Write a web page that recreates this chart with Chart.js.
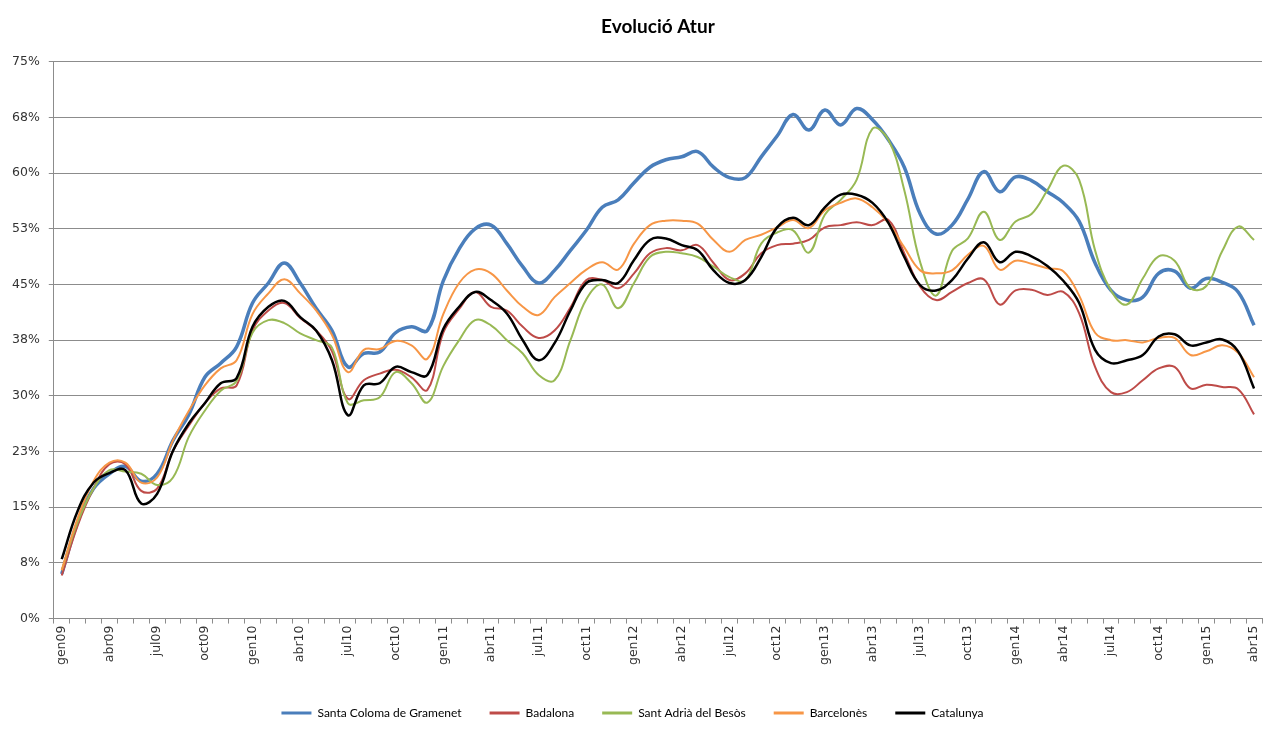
<!DOCTYPE html>
<html>
<head>
  <meta charset="utf-8">
  <title>Evolució Atur</title>
  <script src="https://cdn.jsdelivr.net/npm/chart.js"></script>
  <style>
    body {
      margin: 0;
      padding: 0;
      background: white;
    }
    #wrap {
      width: 1263px;
      height: 733px;
    }
  </style>
</head>
<body>
  <div id="wrap"><canvas id="chartAtur"></canvas></div>

  <script>
    // mesos (gen09 .. abr15)
    const mesos = [
      'gen09','feb09','mar09','abr09','mai09','jun09','jul09','ago09','set09','oct09','nov09','des09',
      'gen10','feb10','mar10','abr10','mai10','jun10','jul10','ago10','set10','oct10','nov10','des10',
      'gen11','feb11','mar11','abr11','mai11','jun11','jul11','ago11','set11','oct11','nov11','des11',
      'gen12','feb12','mar12','abr12','mai12','jun12','jul12','ago12','set12','oct12','nov12','des12',
      'gen13','feb13','mar13','abr13','mai13','jun13','jul13','ago13','set13','oct13','nov13','des13',
      'gen14','feb14','mar14','abr14','mai14','jun14','jul14','ago14','set14','oct14','nov14','des14',
      'gen15','feb15','mar15','abr15'
    ];

    const yTickLabels = ['0%','8%','15%','23%','30%','38%','45%','53%','60%','68%','75%'];

    // valors en %
    const santaColoma = [
      6.0, 13.0, 17.5, 19.5, 20.5, 18.5, 19.5, 24.0, 27.5, 32.5, 34.4, 36.6,
      42.5, 45.2, 47.9, 45.2, 41.8, 38.8, 33.9, 35.7, 35.9, 38.5, 39.3, 38.8,
      45.5, 49.8, 52.5, 53.0, 50.5, 47.4, 45.2, 46.9, 49.6, 52.3, 55.4, 56.4,
      58.7, 60.8, 61.8, 62.2, 62.9, 60.8, 59.4, 59.4, 62.2, 65.0, 67.9, 65.8,
      68.5, 66.5, 68.7, 67.2, 64.5, 60.8, 54.5, 51.8, 53.0, 56.5, 60.2, 57.5,
      59.5, 59.0, 57.5, 56.0, 53.5, 47.9, 44.2, 42.9, 43.3, 46.5, 46.8, 44.5,
      45.8, 45.3, 44.0, 39.5
    ];
    const badalona = [
      5.8, 12.5, 17.5, 20.8, 20.8, 17.2, 17.5, 22.6, 26.0, 29.0, 31.0, 31.4,
      38.8, 41.5, 42.5, 40.5, 38.8, 36.0, 29.6, 32.1, 33.0, 33.5, 32.5, 30.8,
      38.5, 41.7, 44.0, 42.0, 41.5, 39.3, 37.8, 38.8, 41.9, 45.6, 45.6, 44.5,
      46.5, 49.2, 49.9, 49.6, 50.3, 47.9, 45.6, 46.5, 49.2, 50.3, 50.5, 51.0,
      52.7, 53.0, 53.4, 53.0, 53.7, 49.2, 44.7, 42.9, 44.0, 45.2, 45.7, 42.3,
      44.2, 44.3, 43.6, 44.0, 41.1, 33.9, 30.5, 30.5, 32.1, 33.7, 33.9, 31.0,
      31.5, 31.2, 30.9, 27.5
    ];
    const santAdria = [
      6.5, 13.0, 17.5, 20.0, 19.8, 19.5, 18.0, 19.0, 24.5, 28.0, 30.7, 32.0,
      38.5, 40.2, 39.8, 38.4, 37.5, 36.5, 29.0, 29.4, 29.8, 33.2, 31.7, 29.1,
      34.0, 37.5, 40.2, 39.5, 37.5, 35.7, 32.8, 32.1, 37.5, 43.0, 45.0, 41.8,
      45.2, 48.7, 49.4, 49.2, 48.7, 47.4, 46.0, 45.6, 50.5, 52.0, 52.3, 49.3,
      54.4, 56.4, 59.1, 66.0, 64.5, 57.7, 48.0, 43.5, 49.5, 51.2, 54.8, 51.0,
      53.5, 54.5, 57.7, 61.0, 59.1, 49.6, 44.2, 42.3, 45.8, 48.8, 48.2, 44.5,
      44.8, 49.5, 52.8, 51.0
    ];
    const barcelones = [
      6.5, 13.5, 18.5, 21.0, 21.0, 18.3, 19.0, 24.0, 28.0, 31.4, 33.7, 34.8,
      41.0, 43.8, 45.7, 43.8, 41.5, 38.2, 33.2, 36.2, 36.3, 37.4, 36.8, 35.0,
      41.0, 45.2, 47.0, 46.5, 44.2, 42.0, 40.9, 43.3, 45.2, 47.0, 48.0, 47.0,
      50.5, 53.0, 53.6, 53.6, 53.2, 51.0, 49.4, 51.0, 51.7, 52.7, 53.7, 52.6,
      55.0, 56.0, 56.6, 55.4, 53.3, 50.0, 46.9, 46.5, 46.9, 49.0, 50.2, 47.0,
      48.2, 47.8, 47.2, 46.8, 43.5, 38.5, 37.5, 37.5, 37.2, 37.8, 37.8, 35.5,
      36.0, 36.8, 35.8, 32.5
    ];
    const catalunya = [
      8.0, 14.5, 18.3, 19.6, 20.0, 15.5, 16.8, 22.6, 26.3, 29.0, 31.7, 32.4,
      39.3, 42.0, 42.8, 40.6, 38.8, 34.8, 27.4, 31.4, 31.7, 33.9, 33.2, 32.8,
      39.0, 42.0, 44.0, 42.9, 41.1, 37.5, 34.8, 37.1, 41.5, 45.2, 45.6, 45.2,
      48.3, 51.0, 51.2, 50.3, 49.6, 46.9, 45.2, 45.6, 48.7, 52.7, 54.0, 53.0,
      55.4, 57.1, 57.1, 56.0, 53.3, 48.7, 44.9, 44.2, 45.6, 48.5, 50.7, 48.0,
      49.4, 48.8, 47.5, 45.5, 42.5, 36.2, 34.4, 34.8, 35.5, 38.0, 38.3, 36.8,
      37.2, 37.6, 36.0, 31.0
    ];

    const series = [
      { label: 'Santa Coloma de Gramenet', data: santaColoma, color: '#4A7EBB', width: 3.5 },
      { label: 'Badalona', data: badalona, color: '#BE4B48', width: 2 },
      { label: 'Sant Adrià del Besòs', data: santAdria, color: '#98B954', width: 2 },
      { label: 'Barcelonès', data: barcelones, color: '#F79646', width: 2 },
      { label: 'Catalunya', data: catalunya, color: '#000000', width: 2.5 }
    ];

    const gridColor = '#8c8c8c';
    const tickFont = { family: 'DejaVu Sans', size: 12.5 };

    const ctx = document.getElementById('chartAtur').getContext('2d');
    const chart = new Chart(ctx, {
      type: 'line',
      data: {
        labels: mesos,
        datasets: series.map((s, i) => ({
          label: s.label,
          data: s.data,
          borderColor: s.color,
          backgroundColor: s.color,
          borderWidth: s.width,
          pointRadius: 0,
          tension: 0.4,
          fill: false,
          order: series.length - i
        }))
      },
      options: {
        responsive: true,
        maintainAspectRatio: false,
        animation: false,
        layout: {
          padding: { left: 3, right: 1, top: 0, bottom: 4 }
        },
        plugins: {
          title: {
            display: true,
            fullSize: false,
            text: 'Evolució Atur',
            color: '#000',
            font: { family: 'Lato', size: 19, weight: 'bold' },
            padding: { top: 15, bottom: 24 }
          },
          legend: {
            position: 'bottom',
            labels: {
              boxWidth: 30,
              boxHeight: 3,
              padding: 28,
              color: '#000',
              font: { family: 'Lato', size: 12 },
              sort: (a, b) => a.datasetIndex - b.datasetIndex,
              generateLabels: (c) => Chart.defaults.plugins.legend.labels.generateLabels(c)
                .map(l => ({ ...l, lineWidth: 0, fillStyle: l.strokeStyle }))
            }
          },
          tooltip: { enabled: false }
        },
        scales: {
          x: {
            offset: true,
            grid: {
              display: true,
              drawOnChartArea: false,
              offset: true,
              tickLength: 5,
              color: gridColor
            },
            border: { color: gridColor },
            ticks: {
              autoSkip: false,
              maxRotation: 90,
              minRotation: 90,
              padding: 2,
              color: '#333',
              font: tickFont,
              callback: (v, i) => (i % 3 === 0 ? mesos[i] : '')
            },
            afterFit: (s) => {
              s.height += 12;
              s.paddingRight = 0;
            }
          },
          y: {
            min: 0,
            max: 75,
            grid: {
              color: gridColor,
              tickLength: 5
            },
            border: { color: gridColor },
            ticks: {
              stepSize: 7.5,
              padding: 9,
              color: '#333',
              font: tickFont,
              callback: (v, i) => yTickLabels[i]
            }
          }
        }
      }
    });
  </script>
</body>
</html>
